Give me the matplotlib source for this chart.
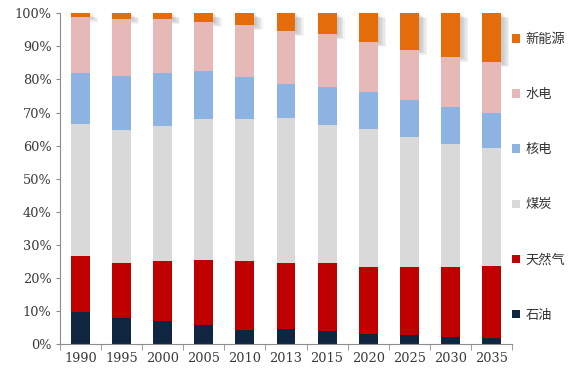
import numpy as np
import matplotlib.pyplot as plt
import matplotlib.patheffects as pe
from matplotlib.patches import Patch

years = ['1990', '1995', '2000', '2005', '2010', '2013', '2015', '2020', '2025', '2030', '2035']
# shares in percent, bottom to top
oil = [9.8, 7.9, 6.9, 5.6, 4.2, 4.4, 3.9, 2.9, 2.6, 2.2, 1.9]
gas = [16.8, 16.6, 18.1, 19.8, 20.8, 20.0, 20.6, 20.4, 20.7, 21.1, 21.8]
coal = [39.8, 40.1, 40.8, 42.5, 43.1, 43.8, 41.8, 41.7, 39.4, 37.2, 35.5]
nuclear = [15.6, 16.4, 16.1, 14.6, 12.5, 10.4, 11.3, 11.2, 11.0, 11.2, 10.6]
hydro = [16.9, 17.4, 16.3, 15.0, 15.8, 16.0, 16.0, 15.1, 15.3, 15.2, 15.4]
new_energy = [1.1, 1.6, 1.8, 2.5, 3.6, 5.4, 6.4, 8.7, 11.0, 13.1, 14.8]

labels = ['石油', '天然气', '煤炭', '核电', '水电', '新能源']
colors = ['#10253F', '#C00000', '#D9D9D9', '#8DB3E2', '#E6B9B8', '#E46C0A']
series = [oil, gas, coal, nuclear, hydro, new_energy]

fig = plt.figure(figsize=(5.76, 3.75), dpi=100)
ax = fig.add_axes([0.104, 0.0827, 0.785, 0.8818])

x = np.arange(len(years))
w = 0.46
bottom = np.zeros(len(years))
for vals, lab, c in zip(series, labels, colors):
    v = np.array(vals) / 100.0
    bars = ax.bar(x, v, w, bottom=bottom, color=c, linewidth=0, label=lab, zorder=2)
    if lab == '新能源':
        # soft drop shadow on the top segment
        shadow = [pe.SimplePatchShadow(offset=(k, -k * 0.6), shadow_rgbFace='#808080', alpha=0.09)
                  for k in range(6, 0, -1)]
        for b in bars:
            b.set_zorder(1)
            b.set_path_effects(shadow + [pe.Normal()])
    bottom += v

ax.set_xlim(-0.5, len(years) - 0.5)
ax.set_ylim(0, 1)
ax.set_yticks(np.arange(0, 1.01, 0.1))
ax.set_yticklabels(['%d%%' % (t * 10) for t in range(11)])
ax.set_xticks(x)
ax.set_xticklabels(years)
ax.set_xticks(np.arange(-0.5, len(years), 1), minor=True)

for s in ['top', 'right']:
    ax.spines[s].set_visible(False)
for s in ['left', 'bottom']:
    ax.spines[s].set_color('#8c8c8c')
    ax.spines[s].set_linewidth(0.8)

ax.tick_params(axis='x', which='major', length=0, pad=6)
ax.tick_params(axis='x', which='minor', length=4, color='#8c8c8c', direction='out')
ax.tick_params(axis='y', length=3, color='#8c8c8c', pad=3)
for t in ax.get_xticklabels() + ax.get_yticklabels():
    t.set_fontfamily('DejaVu Serif')
    t.set_fontsize(9.3)
    t.set_color('#3a3a3a')

handles = [Patch(facecolor=c, label=l) for l, c in zip(labels, colors)][::-1]
leg = ax.legend(handles=handles, loc='upper left', bbox_to_anchor=(1.0, 0.94),
                frameon=False, labelspacing=3.19, handlelength=0.6, handleheight=0.6,
                handletextpad=0.45, borderaxespad=0, borderpad=0,
                prop={'family': ['Noto Sans CJK SC', 'DejaVu Sans'], 'size': 9.5})
for t in leg.get_texts():
    t.set_color('#333333')

fig.savefig('out.png', dpi=100)
